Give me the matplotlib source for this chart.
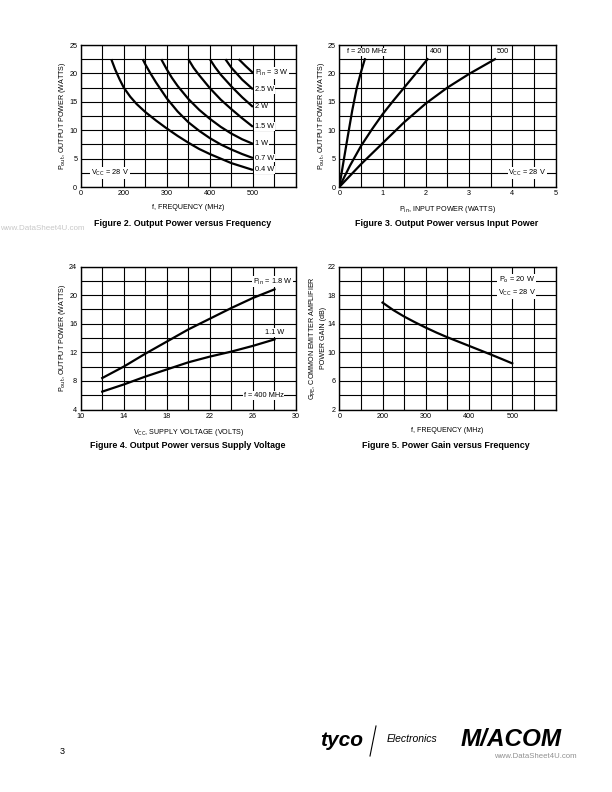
import matplotlib
matplotlib.use("Agg")
import matplotlib.pyplot as plt
import numpy as np

# ---------------- data ----------------
# Figure 2: Pout vs frequency (MHz), per input power
f2_pin_labels = ["0.4 W", "0.7 W", "1 W", "1.5 W", "2 W", "2.5 W", "P$_{\\rm in}$ = 3 W"]
f2_x = [
    [171, 180, 190, 200, 215, 230, 250, 275, 300, 325, 350, 375, 400, 425, 450, 475, 500],
    [244, 250, 262, 275, 300, 325, 350, 375, 400, 425, 450, 475, 500],
    [287, 300, 312, 325, 350, 375, 400, 425, 450, 475, 500],
    [350, 362, 375, 400, 425, 450, 475, 500],
    [400, 412, 425, 450, 475, 500],
    [436, 450, 475, 500],
    [467, 483, 500],
]
f2_y = [
    [22.5, 20.7, 19.0, 17.5, 15.9, 14.6, 13.2, 11.7, 10.3, 9.0, 7.8, 6.7, 5.8, 5.0, 4.2, 3.6, 3.0],
    [22.5, 21.6, 20.0, 18.4, 15.6, 13.3, 11.4, 9.9, 8.6, 7.5, 6.6, 5.8, 5.1],
    [22.5, 20.7, 19.2, 17.8, 15.5, 13.6, 12.0, 10.6, 9.4, 8.4, 7.6],
    [22.5, 21.0, 19.7, 17.4, 15.4, 13.7, 12.1, 10.6],
    [22.5, 21.1, 19.8, 17.7, 15.8, 14.1],
    [22.5, 21.0, 18.9, 17.2],
    [22.5, 21.3, 20.1],
]

# Figure 3: Pout vs Pin, per frequency
f3_labels = ["f = 200 MHz", "400", "500"]
f3_x = [
    [0, 0.1, 0.2, 0.3, 0.4, 0.5, 0.59],
    [0, 0.25, 0.5, 0.75, 1.0, 1.25, 1.5, 1.75, 2.04],
    [0, 0.5, 1.0, 1.5, 2.0, 2.5, 3.0, 3.6],
]
f3_y = [
    [0, 4.6, 9.1, 13.5, 17.3, 20.2, 22.5],
    [0, 3.8, 7.2, 10.1, 12.8, 15.2, 17.5, 19.8, 22.5],
    [0, 4.0, 7.7, 11.4, 14.7, 17.5, 19.9, 22.5],
]

# Figure 4: Pout vs Vcc
f4_labels = ["P$_{\\rm in}$ = 1.8 W", "1.1 W"]
f4_x = [12, 14, 16, 18, 20, 22, 24, 26, 28]
f4_y = [
    [8.4, 10.0, 11.8, 13.5, 15.2, 16.7, 18.2, 19.6, 20.8],
    [6.5, 7.5, 8.6, 9.6, 10.6, 11.4, 12.1, 12.9, 13.8],
]

# Figure 5: Gain vs frequency
f5_x = [200, 225, 250, 275, 300, 325, 350, 375, 400, 425, 450, 475, 500]
f5_y = [16.95, 15.9, 15.0, 14.2, 13.45, 12.75, 12.1, 11.5, 10.9, 10.3, 9.7, 9.08, 8.45]

# tick labels
freq_ticks = [100, 150, 200, 250, 300, 350, 400, 450, 500, 550, 600]
freq_ticklabels = ["0", "", "200", "", "300", "", "400", "", "500", "", ""]
pout25_ticks = [0, 2.5, 5, 7.5, 10, 12.5, 15, 17.5, 20, 22.5, 25]
pout25_ticklabels = ["0", "", "5", "", "10", "", "15", "", "20", "", "25"]
pin_ticks = [0, 0.5, 1, 1.5, 2, 2.5, 3, 3.5, 4, 4.5, 5]
pin_ticklabels = ["0", "", "1", "", "2", "", "3", "", "4", "", "5"]
vcc_ticks = [10, 12, 14, 16, 18, 20, 22, 24, 26, 28, 30]
vcc_ticklabels = ["10", "", "14", "", "18", "", "22", "", "26", "", "30"]
pout24_ticks = [4, 6, 8, 10, 12, 14, 16, 18, 20, 22, 24]
pout24_ticklabels = ["4", "", "8", "", "12", "", "16", "", "20", "", "24"]
gain_ticks = [2, 4, 6, 8, 10, 12, 14, 16, 18, 20, 22]
gain_ticklabels = ["2", "", "6", "", "10", "", "14", "", "18", "", "22"]

# ---------------- style ----------------
NARROW = ["Liberation Sans Narrow", "Liberation Sans", "DejaVu Sans"]
BOLD = ["Liberation Sans", "DejaVu Sans"]
plt.rcParams["font.family"] = NARROW
TICK_FS = 5.2
LAB_FS = 5.1
ANN_FS = 5.3
TITLE_FS = 6.4
CURVE_LW = 1.6
GRID_LW = 0.8

W, H = 612, 792
fig = plt.figure(figsize=(W / 100, H / 100), dpi=100)


def make_ax(x0, y0, x1, y1):
    return fig.add_axes([x0 / W, 1 - y1 / H, (x1 - x0) / W, (y1 - y0) / H])


def style(ax, xt, xtl, yt, ytl):
    ax.set_xlim(xt[0], xt[-1])
    ax.set_ylim(yt[0], yt[-1])
    ax.set_xticks(xt)
    ax.set_xticklabels(xtl, fontsize=TICK_FS)
    ax.set_yticks(yt)
    ax.set_yticklabels(ytl, fontsize=TICK_FS)
    ax.tick_params(length=0, pad=2.5)
    ax.grid(True, color="black", lw=GRID_LW)
    ax.set_axisbelow(True)
    for s in ax.spines.values():
        s.set_linewidth(1.0)


box = dict(facecolor="white", edgecolor="none", pad=0.6)

# ---- Figure 2 ----
ax1 = make_ax(80.7, 45, 296, 187)
style(ax1, freq_ticks, freq_ticklabels, pout25_ticks, pout25_ticklabels)
for xs, ys, lab in zip(f2_x, f2_y, f2_pin_labels):
    ax1.plot(xs, ys, color="black", lw=CURVE_LW, solid_capstyle="butt",
             solid_joinstyle="round", zorder=3)
    ax1.text(504, ys[-1], lab, fontsize=ANN_FS, ha="left", va="center", bbox=box, zorder=4)
ax1.text(168, 2.5, "V$_{\\rm CC}$ = 28 V", fontsize=ANN_FS, ha="center", va="center", bbox=box, zorder=4)
ax1.set_xlabel("f, FREQUENCY (MHz)", fontsize=LAB_FS, labelpad=5)
ax1.set_ylabel("P$_{\\rm out}$, OUTPUT POWER (WATTS)", fontsize=LAB_FS, labelpad=0.5)

# ---- Figure 3 ----
ax2 = make_ax(339.3, 45, 555.5, 187)
style(ax2, pin_ticks, pin_ticklabels, pout25_ticks, pout25_ticklabels)
for xs, ys in zip(f3_x, f3_y):
    ax2.plot(xs, ys, color="black", lw=CURVE_LW, solid_joinstyle="round", zorder=3)
ax2.text(0.17, 23.8, f3_labels[0], fontsize=ANN_FS, ha="left", va="center", bbox=box, zorder=4)
ax2.text(2.1, 23.8, f3_labels[1], fontsize=ANN_FS, ha="left", va="center", bbox=box, zorder=4)
ax2.text(3.64, 23.8, f3_labels[2], fontsize=ANN_FS, ha="left", va="center", bbox=box, zorder=4)
ax2.text(4.35, 2.5, "V$_{\\rm CC}$ = 28 V", fontsize=ANN_FS, ha="center", va="center", bbox=box, zorder=4)
ax2.set_xlabel("P$_{\\rm in}$, INPUT POWER (WATTS)", fontsize=LAB_FS, labelpad=5)
ax2.set_ylabel("P$_{\\rm out}$, OUTPUT POWER (WATTS)", fontsize=LAB_FS, labelpad=0.5)

# ---- Figure 4 ----
ax3 = make_ax(80.7, 266.5, 296, 409.5)
style(ax3, vcc_ticks, vcc_ticklabels, pout24_ticks, pout24_ticklabels)
for ys in f4_y:
    ax3.plot(f4_x, ys, color="black", lw=CURVE_LW, solid_joinstyle="round", zorder=3)
ax3.text(27.8, 21.9, f4_labels[0], fontsize=ANN_FS, ha="center", va="center", bbox=box, zorder=4)
ax3.text(28.0, 14.8, f4_labels[1], fontsize=ANN_FS, ha="center", va="center", bbox=box, zorder=4)
ax3.text(27.0, 6.0, "f = 400 MHz", fontsize=ANN_FS, ha="center", va="center", bbox=box, zorder=4)
ax3.set_xlabel("V$_{\\rm CC}$, SUPPLY VOLTAGE (VOLTS)", fontsize=LAB_FS, labelpad=5)
ax3.set_ylabel("P$_{\\rm out}$, OUTPUT POWER (WATTS)", fontsize=LAB_FS, labelpad=0.5)

# ---- Figure 5 ----
ax4 = make_ax(339.3, 266.5, 555.5, 409.5)
style(ax4, freq_ticks, freq_ticklabels, gain_ticks, gain_ticklabels)
ax4.plot(f5_x, f5_y, color="black", lw=CURVE_LW, solid_joinstyle="round", zorder=3)
ax4.text(510, 19.2, "P$_{\\rm o}$ = 20 W\nV$_{\\rm CC}$ = 28 V", fontsize=ANN_FS, ha="center",
         va="center", bbox=box, zorder=4, linespacing=1.5)
ax4.set_xlabel("f, FREQUENCY (MHz)", fontsize=LAB_FS, labelpad=5)
ax4.set_ylabel("G$_{\\rm PE}$, COMMON EMITTER AMPLIFIER\nPOWER GAIN (dB)", fontsize=LAB_FS,
               labelpad=0.5, linespacing=1.3)

# ---- titles ----
fig.text(183 / W, 1 - 224 / H, "Figure 2. Output Power versus Frequency", fontsize=TITLE_FS,
         fontweight="bold", family=BOLD, ha="center", va="center")
fig.text(447 / W, 1 - 224 / H, "Figure 3. Output Power versus Input Power", fontsize=TITLE_FS,
         fontweight="bold", family=BOLD, ha="center", va="center")
fig.text(188 / W, 1 - 446 / H, "Figure 4. Output Power versus Supply Voltage", fontsize=TITLE_FS,
         fontweight="bold", family=BOLD, ha="center", va="center")
fig.text(446 / W, 1 - 446 / H, "Figure 5. Power Gain versus Frequency", fontsize=TITLE_FS,
         fontweight="bold", family=BOLD, ha="center", va="center")

# watermark
fig.text(0 / W, 1 - 229 / H, "www.DataSheet4U.com", fontsize=5.8, color="#c8c8c8",
         family=BOLD, ha="left", va="center")

# ---- footer ----
fig.text(62 / W, 1 - 752 / H, "3", fontsize=6.5, family=NARROW, ha="center", va="center")
fig.text(342 / W, 1 - 741 / H, "tyco", fontsize=15, fontweight="heavy", style="italic",
         family=BOLD, ha="center", va="center")
fig.lines.append(plt.Line2D([376 / W, 370 / W], [1 - 726 / H, 1 - 756 / H],
                            transform=fig.transFigure, color="black", lw=0.8))
fig.text(412 / W, 1 - 739 / H, "Electronics", fontsize=7.5, style="italic",
         family=BOLD, ha="center", va="center")
fig.text(511 / W, 1 - 740 / H, "M/ACOM", fontsize=17.5, fontweight="heavy", style="italic",
         family=BOLD, ha="center", va="center")
fig.text(535 / W, 1 - 757 / H, "www.DataSheet4U.com", fontsize=5.6, color="#909090",
         family=NARROW, ha="center", va="center")

fig.savefig("out.png", dpi=100)
